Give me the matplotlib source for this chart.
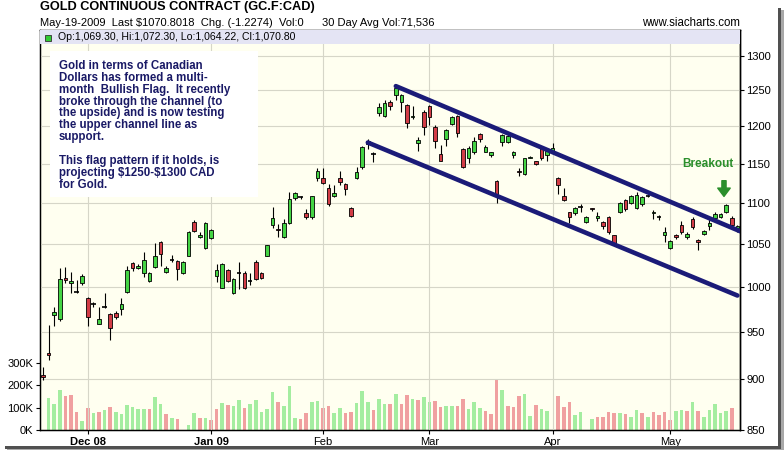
import matplotlib
matplotlib.use('Agg')
import matplotlib.pyplot as plt
from matplotlib.patches import Rectangle
from matplotlib.ticker import NullLocator
import numpy as np

plt.rcParams['font.family'] = ['Liberation Sans', 'DejaVu Sans']

# daily OHLC, Nov 18 2008 .. May 19 2009 (one entry per trading day)
opens = [905, 927, 968, 964, 1010, 1004, 994, 1004, 987, 980,
         959, 977, 969, 971, 975, 994, 1027, 1021, 1016, 1006,
         1023, 1052, 1017, 1031, 1030, 1016, 1036, 1076, 1058, 1045,
         1057, 1012, 999, 1019, 993, 1016, 1016, 1007, 1028, 1016,
         1036, 1073, 1068, 1058, 1075, 1106, 1107, 1087, 1082, 1132,
         1131, 1119, 1108, 1131, 1124, 1093, 1131, 1146, 1176, 1163,
         1218, 1214, 1234, 1243, 1234, 1230, 1212, 1177, 1220, 1228,
         1199, 1163, 1183, 1203, 1214, 1169, 1157, 1165, 1190, 1166,
         1161, 1128, 1179, 1179, 1162, 1141, 1136, 1158, 1153, 1171,
         1162, 1167, 1132, 1108, 1088, 1087, 1095, 1076, 1093, 1081,
         1076, 1083, 1060, 1088, 1104, 1100, 1093, 1098, 1108, 1087,
         1083, 1061, 1045, 1061, 1073, 1058, 1080, 1055, 1062, 1072,
         1081, 1082, 1088, 1081, 1069.30]
highs = [913, 957, 977, 1022, 1023, 1017, 1008, 1014, 988, 983,
         977, 993, 971, 973, 987, 1024, 1028, 1026, 1040, 1017,
         1051, 1053, 1024, 1037, 1031, 1030, 1065, 1079, 1064, 1076,
         1068, 1026, 1027, 1020, 1010, 1029, 1018, 1016, 1031, 1017,
         1049, 1095, 1074, 1080, 1113, 1114, 1109, 1092, 1109, 1144,
         1144, 1124, 1122, 1140, 1125, 1095, 1146, 1173, 1183, 1166,
         1232, 1237, 1237, 1255, 1245, 1231, 1228, 1186, 1223, 1230,
         1202, 1175, 1196, 1214, 1215, 1171, 1173, 1186, 1191, 1175,
         1166, 1129, 1189, 1189, 1167, 1144, 1158, 1160, 1154, 1173,
         1171, 1178, 1133, 1119, 1089, 1095, 1098, 1084, 1094, 1088,
         1077, 1084, 1061, 1101, 1105, 1110, 1113, 1108, 1110, 1091,
         1085, 1070, 1054, 1062, 1077, 1064, 1082, 1056, 1066, 1081,
         1089, 1087, 1099, 1084, 1072.30]
lows = [899, 920, 956, 962, 1004, 993, 993, 1002, 956, 977,
        958, 976, 941, 964, 968, 993, 1018, 1020, 1011, 1005,
        1022, 1024, 1016, 1028, 1008, 1015, 1035, 1064, 1057, 1044,
        1056, 1005, 998, 1005, 992, 997, 997, 1002, 1008, 1009,
        1035, 1069, 1058, 1057, 1074, 1104, 1105, 1080, 1080, 1127,
        1124, 1096, 1107, 1123, 1110, 1083, 1130, 1143, 1170, 1152,
        1214, 1212, 1223, 1237, 1220, 1198, 1210, 1167, 1188, 1202,
        1171, 1153, 1173, 1202, 1186, 1145, 1151, 1163, 1179, 1165,
        1159, 1100, 1174, 1178, 1158, 1134, 1135, 1157, 1148, 1155,
        1153, 1164, 1111, 1102, 1075, 1085, 1088, 1075, 1090, 1078,
        1068, 1062, 1050, 1087, 1090, 1099, 1092, 1096, 1107, 1080,
        1079, 1052, 1044, 1056, 1062, 1056, 1068, 1042, 1061, 1067,
        1080, 1081, 1087, 1072, 1064.22]
closes = [902, 925, 972, 1009, 1008, 1006, 994, 1012, 966, 980,
          964, 977, 954, 966, 980, 1019, 1021, 1024, 1031, 1016,
          1035, 1038, 1021, 1031, 1020, 1029, 1064, 1065, 1060, 1075,
          1067, 1019, 1026, 1006, 1009, 1016, 999, 1007, 1009, 1010,
          1048, 1081, 1066, 1075, 1105, 1112, 1107, 1082, 1108, 1140,
          1125, 1098, 1112, 1126, 1118, 1084, 1139, 1172, 1180, 1163,
          1227, 1232, 1228, 1253, 1243, 1205, 1214, 1181, 1199, 1213,
          1180, 1154, 1195, 1213, 1191, 1146, 1171, 1180, 1183, 1172,
          1165, 1108, 1188, 1187, 1166, 1139, 1157, 1159, 1149, 1158,
          1167, 1171, 1123, 1103, 1082, 1093, 1095, 1082, 1092, 1084,
          1072, 1064, 1051, 1100, 1092, 1108, 1110, 1107, 1108, 1089,
          1083, 1064, 1053, 1058, 1064, 1062, 1070, 1052, 1065, 1075,
          1086, 1086, 1097, 1073, 1070.80]
# volume in thousands of contracts
volumes = [0, 141, 115, 178, 151, 155, 81, 41, 96, 77,
           81, 89, 104, 81, 71, 111, 104, 93, 93, 93,
           145, 115, 71, 55, 49, 0, 22, 74, 55, 52,
           44, 93, 118, 111, 107, 133, 99, 115, 133, 80,
           95, 170, 126, 107, 197, 55, 49, 77, 126, 129,
           99, 107, 77, 96, 77, 81, 118, 175, 126, 90,
           136, 115, 115, 160, 114, 155, 136, 133, 145, 126,
           129, 104, 107, 107, 107, 136, 93, 126, 96, 84,
           71, 222, 178, 107, 101, 151, 160, 62, 111, 93,
           84, 0, 151, 101, 123, 67, 81, 0, 49, 56,
           56, 78, 77, 77, 71, 56, 89, 77, 56, 78,
           67, 78, 44, 84, 89, 84, 123, 84, 56, 89,
           114, 77, 86, 96, 0]

month_pos = [8, 30, 50, 69, 91, 112]
month_labels = ['Dec 08', 'Jan 09', 'Feb', 'Mar', 'Apr', 'May']
month_bold = [True, True, False, False, False, False]
price_ticks = [850, 900, 950, 1000, 1050, 1100, 1150, 1200, 1250, 1300]
vol_ticks = [0, 100, 200, 300]

# channel lines (day index, price)
upper_x = [63, 124.5]
upper_y = [1256, 1065]
lower_x = [58, 124]
lower_y = [1178, 990]

note_lines = ["Gold in terms of Canadian",
              "Dollars has formed a multi-",
              "month  Bullish Flag.  It recently",
              "broke through the channel (to",
              "the upside) and is now testing",
              "the upper channel line as",
              "support.",
              "",
              "This flag pattern if it holds, is",
              "projecting \\$1250-\\$1300 CAD",
              "for Gold."]

W, H = 784, 450
fig = plt.figure(figsize=(W / 100, H / 100), dpi=100)
fig.patch.set_facecolor('white')


def fx(px):
    return px / W


def fy(py):
    return 1 - py / H


GREEN = '#44d444'
RED = '#d23c46'
VGREEN = '#a4eda0'
VRED = '#f0a0a0'
GRID = '#d6d6c8'

idx = np.arange(len(closes))
o = np.array(opens)
c = np.array(closes)

# volume axes (left scale)
ax = fig.add_axes([fx(40), 20 / H, 700 / W, 400 / H])
ax.set_facecolor('#fffff0')
ax.set_xlim(-0.54, 124.46)
ax.set_ylim(0, 1778)
prev = np.concatenate([[c[0]], c[:-1]])
vcol = [VGREEN if c[i] >= prev[i] else VRED for i in idx]
ax.bar(idx, volumes, width=0.62, color=vcol, lw=0, zorder=1)
ax.set_yticks(vol_ticks)
ax.set_yticklabels([f'{v}K' for v in vol_ticks])
ax.set_xticks(month_pos)
ax.set_xticklabels(month_labels)
for lab, b in zip(ax.get_xticklabels(), month_bold):
    if b:
        lab.set_fontweight('bold')
ax.tick_params(axis='both', labelsize=8, length=3, width=0.8, color='black', pad=2)
for s in ax.spines.values():
    s.set_linewidth(1.0)
    s.set_color('black')

# price axes (right scale, log)
axp = ax.twinx()
axp.set_yscale('log')
axp.set_ylim(849.7, 1338.7)
axp.set_yticks(price_ticks)
axp.set_yticklabels([str(p) for p in price_ticks])
axp.yaxis.set_minor_locator(NullLocator())
axp.tick_params(axis='y', labelsize=8, length=3, width=0.8, pad=1.5)
for p in price_ticks:
    axp.axhline(p, color=GRID, lw=0.8, zorder=0)
for m in month_pos:
    axp.axvline(m, color=GRID, lw=0.8, zorder=0)
axp.spines['right'].set_linewidth(1.0)

# candles
axp.vlines(idx, lows, highs, color='black', lw=0.8, zorder=3)
body = np.abs(c - o)
doji = body < 0.5
ccol = [GREEN if c[i] > o[i] else RED for i in idx]
axp.bar(idx[~doji], body[~doji], bottom=np.minimum(o, c)[~doji], width=0.66,
        color=[ccol[i] for i in idx[~doji]], edgecolor='black', lw=0.6, zorder=4)
axp.hlines(c[doji], idx[doji] - 0.4, idx[doji] + 0.4, color='black', lw=1.2, zorder=4)

# channel
axp.plot(upper_x, upper_y, color='#1b1b78', lw=3.3, solid_capstyle='round', zorder=5)
axp.plot(lower_x, lower_y, color='#1b1b78', lw=3.3, solid_capstyle='round', zorder=5)

# breakout annotation
axp.text(118.8, 1150, 'Breakout', color='#2b8f2b', fontsize=8.5, fontweight='bold',
         ha='center', va='center', zorder=6)
axp.annotate('', xy=(121.6, 1108), xytext=(121.6, 1128),
             arrowprops=dict(facecolor='#2b8f2b', edgecolor='#2b8f2b',
                             width=3, headwidth=9, headlength=6), zorder=6)

# info band on top of plot
axp.add_patch(Rectangle((0, (430 - 44) / 400), 1, 14 / 400, transform=axp.transAxes,
                        facecolor='#e4e4f4', edgecolor='none', zorder=7))
axp.add_patch(Rectangle((fx(45), fy(41)), 6 / W, 6 / H, transform=fig.transFigure,
                        facecolor='#33cc33', edgecolor='#333333', lw=0.6, zorder=8))
fig.text(fx(58), fy(37.5), 'Op:1,069.30, Hi:1,072.30, Lo:1,064.22, Cl:1,070.80',
         fontsize=7.6, va='center', ha='left')

# note box
axp.add_patch(Rectangle((fx(50), fy(197)), 208 / W, 146 / H, transform=fig.transFigure,
                        facecolor='white', edgecolor='none', zorder=6))
base = 69
for k, line in enumerate(note_lines):
    fig.text(fx(59), fy(base + 11.85 * k), line, fontsize=8.3, fontweight='bold',
             color='#1a1a66', va='baseline', ha='left')

# header
fig.text(fx(40), fy(7), 'GOLD CONTINUOUS CONTRACT (GC.F:CAD)', fontsize=9.2,
         fontweight='bold', va='center', ha='left')
fig.text(fx(40), fy(22.5), 'May-19-2009  Last \\$1070.8018  Chg. (-1.2274)  Vol:0',
         fontsize=8, va='center', ha='left')
fig.text(fx(322), fy(22.5), '30 Day Avg Vol:71,536', fontsize=8, va='center', ha='left')
fig.text(fx(740), fy(22.5), 'www.siacharts.com', fontsize=8.3, va='center', ha='right')

# drop shadow of the screenshot
fig.patches.append(Rectangle((fx(778), 0), 3 / W, fy(8), transform=fig.transFigure,
                             facecolor='#505050', edgecolor='none'))
fig.patches.append(Rectangle((fx(781), 0), 3 / W, fy(10), transform=fig.transFigure,
                             facecolor='#a8a8a8', edgecolor='none'))
fig.patches.append(Rectangle((fx(5), fy(449)), 776 / W, 3 / H, transform=fig.transFigure,
                             facecolor='#505050', edgecolor='none'))
fig.patches.append(Rectangle((fx(7), 0), 776 / W, 1 / H, transform=fig.transFigure,
                             facecolor='#a8a8a8', edgecolor='none'))

fig.savefig('out.png', dpi=100)
